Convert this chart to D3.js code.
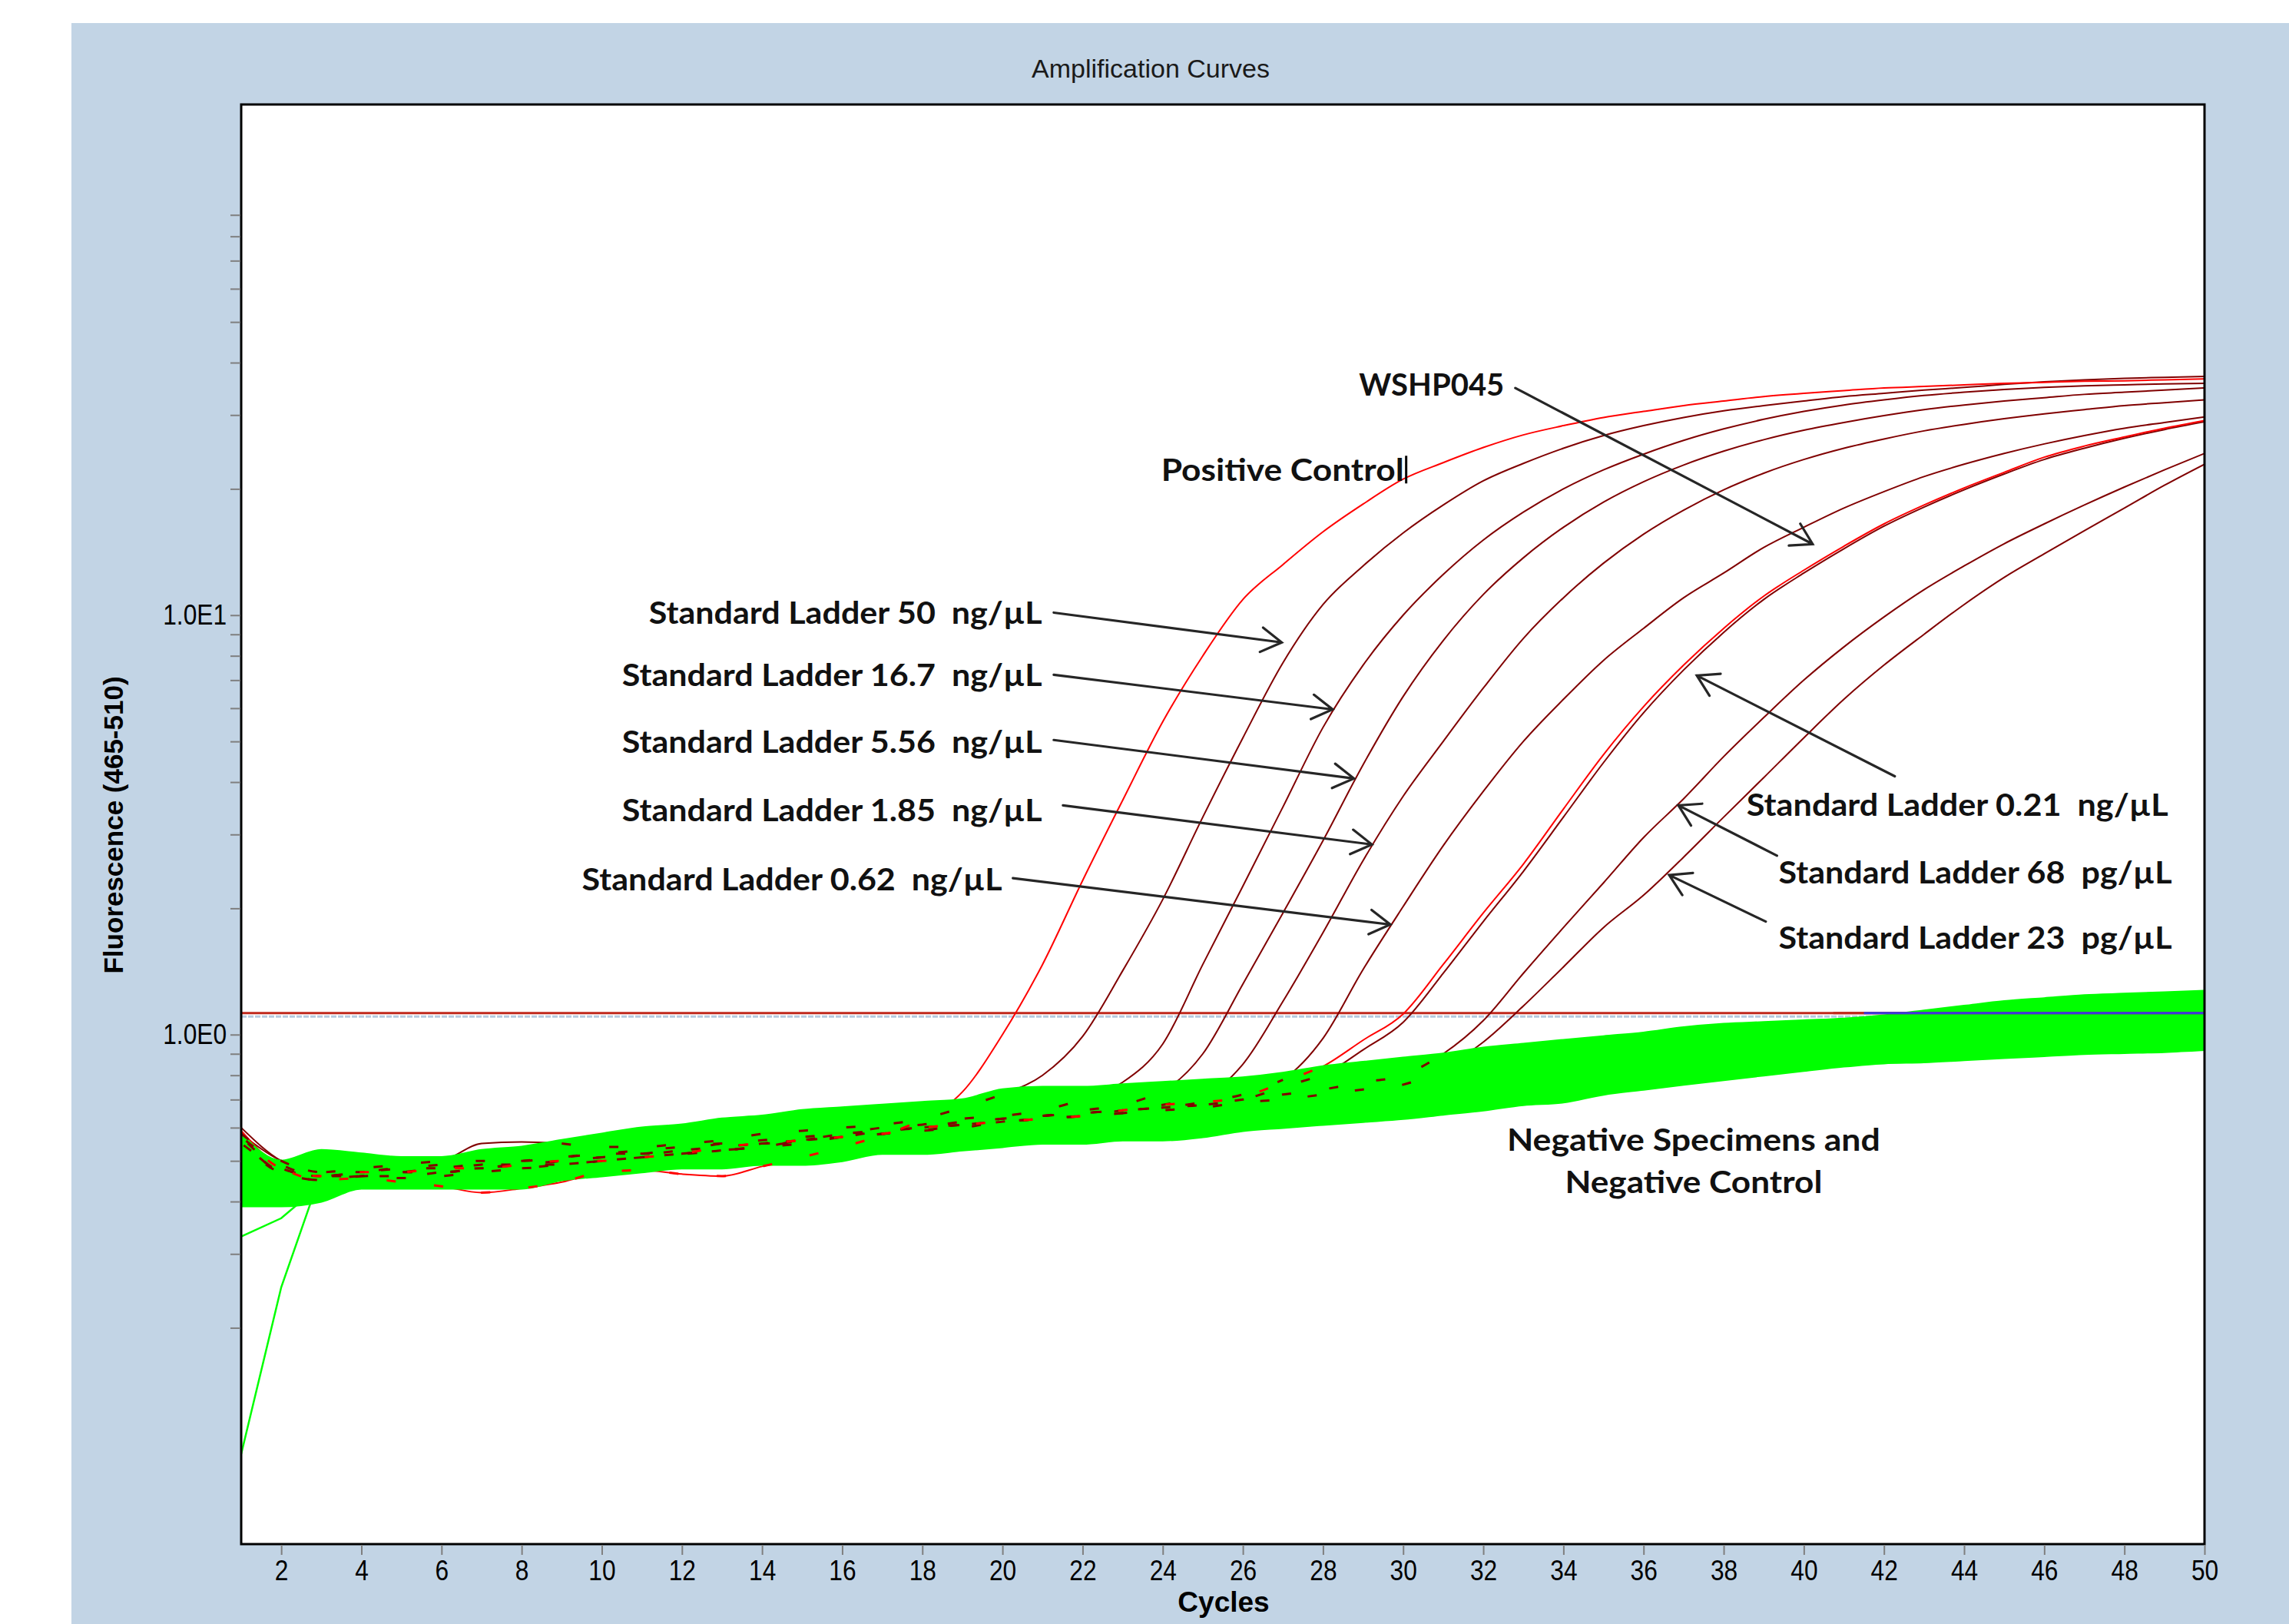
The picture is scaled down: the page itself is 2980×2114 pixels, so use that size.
<!DOCTYPE html>
<html><head><meta charset="utf-8">
<script src="https://cdn.jsdelivr.net/npm/d3@7"></script>
<style>html,body{margin:0;padding:0;background:#fff;} svg{display:block;} text{white-space:pre;}</style>
</head><body>
<svg id="chart" width="2980" height="2114"></svg>
<script>
// ---------------- DATA ----------------
const cycles = d3.range(1, 51);
const xTickValues = d3.range(2, 51, 2);
const yTickValues = [0.2,0.3,0.4,0.5,0.6,0.7,0.8,0.9,1,2,3,4,5,6,7,8,9,10,20,30,40,50,60,70,80,90];
const yTickLabels = {1: "1.0E0", 10: "1.0E1"};
const thresholdValue = 1.125;
const thresholdBlueFrom = 41.5;

const positiveControl = [0.59,0.48,0.45,0.455,0.445,0.435,0.42,0.43,0.445,0.47,
 0.475,0.465,0.46,0.485,0.51,0.54,0.575,0.625,0.73,1.0,
 1.47,2.33,3.62,5.57,8.0,10.9,13.2,15.8,18.4,21.1,
 23.1,25.1,26.9,28.3,29.6,30.6,31.6,32.4,33.2,33.8,
 34.3,34.8,35.1,35.4,35.7,35.9,36.1,36.2,36.4,36.6];
const wshp045 = [0.58,0.48,0.46,0.47,0.47,0.48,0.48,0.49,0.50,0.50,
 0.51,0.52,0.54,0.55,0.56,0.57,0.58,0.60,0.61,0.62,
 0.63,0.64,0.66,0.68,0.69,0.71,0.77,0.84,0.97,1.12,
 1.47,1.95,2.55,3.45,4.65,6.05,7.6,9.3,11.1,12.8,
 14.6,16.5,18.3,20.1,21.9,23.8,25.3,26.6,27.9,29.1];
const std50 = [0.58,0.50,0.47,0.48,0.49,0.50,0.55,0.555,0.55,0.54,
 0.54,0.55,0.56,0.58,0.59,0.60,0.61,0.63,0.67,0.72,
 0.80,0.99,1.42,2.1,3.3,5.1,7.7,10.6,13.1,15.7,
 18.3,20.9,23.0,25.0,26.8,28.3,29.6,30.7,31.6,32.4,
 33.2,33.8,34.4,34.9,35.5,36.0,36.4,36.7,36.9,37.1];
const std16_7 = [0.56,0.47,0.45,0.46,0.455,0.46,0.47,0.48,0.49,0.50,
 0.51,0.52,0.53,0.54,0.56,0.58,0.60,0.61,0.63,0.64,
 0.66,0.70,0.77,0.95,1.47,2.26,3.49,5.4,7.6,10.0,
 12.5,15.1,17.6,20.0,22.2,24.2,26.1,27.8,29.3,30.6,
 31.7,32.6,33.4,34.0,34.5,34.9,35.2,35.4,35.6,35.7];
const std5_56 = [0.55,0.48,0.46,0.47,0.48,0.48,0.49,0.50,0.51,0.52,
 0.52,0.53,0.55,0.56,0.57,0.58,0.59,0.60,0.62,0.63,
 0.64,0.66,0.68,0.73,0.90,1.32,1.95,2.9,4.4,6.4,
 8.7,11.2,13.7,16.2,18.6,20.8,22.8,24.6,26.2,27.6,
 28.8,29.9,30.9,31.7,32.4,33.0,33.6,34.0,34.4,34.8];
const std1_85 = [0.60,0.50,0.47,0.47,0.47,0.47,0.48,0.49,0.50,0.51,
 0.52,0.52,0.53,0.54,0.56,0.57,0.58,0.60,0.61,0.62,
 0.63,0.64,0.66,0.68,0.71,0.85,1.2,1.75,2.6,3.7,
 5.0,6.7,8.8,11.0,13.3,15.6,17.8,19.9,21.8,23.5,
 25.0,26.3,27.5,28.5,29.4,30.2,30.9,31.6,32.1,32.6];
const std0_62 = [0.57,0.49,0.46,0.46,0.46,0.47,0.48,0.48,0.49,0.50,
 0.51,0.52,0.53,0.55,0.56,0.58,0.59,0.60,0.61,0.62,
 0.64,0.65,0.66,0.67,0.69,0.72,0.78,0.98,1.43,2.02,
 2.82,3.8,5.0,6.3,7.8,9.3,11.0,12.6,14.5,16.2,
 18.0,19.7,21.4,22.9,24.3,25.6,26.8,27.9,28.8,29.7];
const std0_21 = [0.56,0.47,0.45,0.46,0.47,0.47,0.48,0.49,0.49,0.50,
 0.51,0.52,0.53,0.54,0.55,0.57,0.58,0.59,0.60,0.62,
 0.63,0.64,0.65,0.67,0.68,0.70,0.75,0.80,0.92,1.07,
 1.40,1.86,2.45,3.3,4.45,5.85,7.4,9.1,10.9,12.6,
 14.4,16.3,18.1,19.9,21.7,23.5,25.0,26.4,27.7,28.9];
const std68pg = [0.57,0.48,0.46,0.47,0.48,0.49,0.50,0.50,0.51,0.52,
 0.53,0.54,0.55,0.55,0.56,0.57,0.59,0.60,0.61,0.63,
 0.64,0.65,0.66,0.67,0.68,0.70,0.72,0.74,0.77,0.80,
 0.90,1.08,1.40,1.80,2.30,2.95,3.65,4.6,5.7,7.0,
 8.4,9.9,11.5,13.1,14.8,16.5,18.3,20.2,22.2,24.3];
const std23pg = [0.56,0.47,0.46,0.46,0.47,0.48,0.49,0.49,0.50,0.51,
 0.52,0.53,0.54,0.55,0.56,0.57,0.58,0.59,0.61,0.62,
 0.63,0.64,0.65,0.66,0.67,0.69,0.70,0.72,0.74,0.76,
 0.83,0.96,1.17,1.45,1.80,2.15,2.65,3.3,4.1,5.1,
 6.3,7.6,9.0,10.6,12.3,14.0,15.9,18.0,20.4,22.9];

// negative specimens: envelope of the green band + two outlying start traces
const negativeUpper = [0.58,0.50,0.53,0.52,0.51,0.51,0.53,0.54,0.56,0.58,
 0.60,0.61,0.63,0.64,0.66,0.67,0.68,0.69,0.70,0.74,
 0.75,0.75,0.76,0.77,0.78,0.79,0.81,0.84,0.86,0.88,
 0.90,0.93,0.95,0.97,0.99,1.01,1.04,1.06,1.07,1.08,
 1.09,1.11,1.14,1.17,1.20,1.22,1.24,1.25,1.26,1.27];
const negativeLower = [0.39,0.39,0.40,0.43,0.43,0.43,0.43,0.43,0.45,0.46,
 0.47,0.48,0.48,0.49,0.49,0.50,0.52,0.52,0.53,0.54,
 0.55,0.55,0.56,0.56,0.57,0.59,0.60,0.61,0.62,0.63,
 0.645,0.66,0.68,0.69,0.72,0.74,0.76,0.78,0.80,0.82,
 0.84,0.855,0.86,0.87,0.88,0.89,0.90,0.905,0.91,0.92];
const negativeOutlierA = [0.33,0.365,0.44];
const negativeOutlierB = [0.10,0.25,0.47];

const standardSeries = [std50, std16_7, std5_56, std1_85, std0_62, std0_21, std68pg, std23pg];
const redSeries = [positiveControl, wshp045];

// annotations: label, text anchor point (cycle, fluorescence), arrow tail -> head
const annotations = [
 {t:"WSHP045", at:[28.90,33.35], a:"start", w:189, arrow:[[32.80,34.8],[40.22,14.77]]},
 {t:"Positive Control", at:[23.96,20.87], a:"start", w:316, bar:true},
 {t:"Standard Ladder 50  ng/µL", at:[20.99,9.52], a:"end", w:512, arrow:[[21.28,10.14],[26.97,8.61]]},
 {t:"Standard Ladder 16.7  ng/µL", at:[20.99,6.79], a:"end", w:547, arrow:[[21.28,7.21],[28.24,5.96]]},
 {t:"Standard Ladder 5.56  ng/µL", at:[20.99,4.69], a:"end", w:547, arrow:[[21.28,5.04],[28.77,4.08]]},
 {t:"Standard Ladder 1.85  ng/µL", at:[20.99,3.23], a:"end", w:547, arrow:[[21.51,3.52],[29.22,2.84]]},
 {t:"Standard Ladder 0.62  ng/µL", at:[19.99,2.21], a:"end", w:547, arrow:[[20.26,2.36],[29.68,1.83]]},
 {t:"Standard Ladder 0.21  ng/µL", at:[38.57,3.33], a:"start", w:549, arrow:[[42.27,4.13],[37.33,7.18]]},
 {t:"Standard Ladder 68  pg/µL", at:[39.37,2.29], a:"start", w:512, arrow:[[39.33,2.67],[36.87,3.52]]},
 {t:"Standard Ladder 23  pg/µL", at:[39.37,1.60], a:"start", w:512, arrow:[[39.05,1.86],[36.64,2.40]]},
 {t:"Negative Specimens and", at:[37.25,0.529], a:"middle", w:486},
 {t:"Negative Control", at:[37.25,0.419], a:"middle", w:335}
];

// ---------------- LAYOUT ----------------
const svg = d3.select("#chart");
const L = 314, R = 2870, T = 136, B = 2010;
const x = d3.scaleLinear().domain([1, 50]).range([L, R]);
const y = d3.scaleLog().domain([0.061, 165]).range([B, T]);

svg.append("rect").attr("x",0).attr("y",0).attr("width",2980).attr("height",2114).attr("fill","#fff");
svg.append("rect").attr("x",93).attr("y",30).attr("width",2887).attr("height",2084).attr("fill","#c2d4e5");
svg.append("rect").attr("x",L).attr("y",T).attr("width",R-L).attr("height",B-T).attr("fill","#fff");

svg.append("text").attr("x",1498).attr("y",101).attr("text-anchor","middle")
  .attr("font-family","Liberation Sans, Arial, sans-serif").attr("font-size",34).attr("fill","#1a1a1a")
  .text("Amplification Curves");

const clipId = "plotclip";
svg.append("defs").append("clipPath").attr("id",clipId).append("rect")
  .attr("x",L).attr("y",T).attr("width",R-L).attr("height",B-T);
const plot = svg.append("g").attr("clip-path",`url(#${clipId})`);

const line = d3.line().x((d,i)=>x(cycles[i])).y(d=>y(d)).curve(d3.curveMonotoneX);

// threshold
const ty = y(thresholdValue);
plot.append("line").attr("x1",x(1)).attr("x2",x(50)).attr("y1",ty+4.5).attr("y2",ty+4.5)
  .attr("stroke","#b6cadf").attr("stroke-width",3).attr("stroke-dasharray","7,2");
plot.append("line").attr("x1",x(1)).attr("x2",x(50)).attr("y1",ty).attr("y2",ty)
  .attr("stroke","#c0281c").attr("stroke-width",3);

// amplification curves (full)
standardSeries.forEach(s=>{
  plot.append("path").datum(s).attr("d", line).attr("fill","none").attr("stroke","#800000").attr("stroke-width",2);
});
redSeries.forEach(s=>{
  plot.append("path").datum(s).attr("d", line).attr("fill","none").attr("stroke","#ff0000").attr("stroke-width",2);
});

// green band (negative specimens) drawn over the baselines
const band = cycles.map((c,i)=>({c, lo:negativeLower[i], hi:negativeUpper[i]}));
plot.append("path").datum(band)
  .attr("d", d3.area().x(d=>x(d.c)).y0(d=>y(d.lo)).y1(d=>y(d.hi)).curve(d3.curveMonotoneX))
  .attr("fill","#00ff00").attr("stroke","#00ff00").attr("stroke-width",3);
[negativeOutlierA, negativeOutlierB].forEach(s=>{
  plot.append("path").datum(s).attr("d", d3.line().x((d,i)=>x(cycles[i])).y(d=>y(d)))
    .attr("fill","none").attr("stroke","#00ff00").attr("stroke-width",2.5);
});

// curve fragments visible through the band (baseline part only)
const baseLine = d3.line().defined((d,i)=>d <= negativeUpper[i]).x((d,i)=>x(cycles[i])).y(d=>y(d)).curve(d3.curveMonotoneX);
standardSeries.concat(redSeries).forEach((s,k)=>{
  plot.append("path").datum(s).attr("d", baseLine).attr("fill","none")
    .attr("stroke", k < standardSeries.length ? "#800000" : "#ff0000")
    .attr("stroke-width",3).attr("stroke-dasharray","12,50").attr("stroke-dashoffset", k*29);
});

// threshold on top of the band where it rises above
plot.append("line").attr("x1",x(thresholdBlueFrom)-40).attr("x2",x(50)).attr("y1",ty).attr("y2",ty)
  .attr("stroke","#c0281c").attr("stroke-width",3);
plot.append("line").attr("x1",x(thresholdBlueFrom)).attr("x2",x(50)).attr("y1",ty).attr("y2",ty)
  .attr("stroke","#3a3ae0").attr("stroke-width",3);

// frame
svg.append("rect").attr("x",L).attr("y",T).attr("width",R-L).attr("height",B-T)
  .attr("fill","none").attr("stroke","#000").attr("stroke-width",3);

// axes
const tickFont = "Liberation Sans, Arial, sans-serif";
const xAxis = svg.append("g").attr("transform",`translate(0,${B+1})`)
  .call(d3.axisBottom(x).tickValues(xTickValues).tickSize(13).tickPadding(7).tickFormat(d3.format("d")));
const yAxis = svg.append("g").attr("transform",`translate(${L-1},0)`)
  .call(d3.axisLeft(y).tickValues(yTickValues).tickSize(13).tickPadding(5).tickFormat(d=>yTickLabels[d]||""));
[xAxis, yAxis].forEach(g=>{
  g.select(".domain").remove();
  g.selectAll(".tick line").attr("stroke","#7f7f7f").attr("stroke-width",2);
  g.selectAll(".tick text").attr("font-family",tickFont).attr("font-size",36).attr("fill","#000");
});
[xAxis, yAxis].forEach(g=>{
  g.selectAll(".tick text").each(function(){
    const len = this.getComputedTextLength();
    if (len>0) d3.select(this).attr("textLength", len*0.88).attr("lengthAdjust","spacingAndGlyphs");
  });
});

svg.append("text").attr("x",1593).attr("y",2098).attr("text-anchor","middle")
  .attr("font-family",tickFont).attr("font-weight","bold").attr("font-size",37).text("Cycles");
svg.append("text").attr("transform","translate(160,1074) rotate(-90)").attr("text-anchor","middle")
  .attr("font-family",tickFont).attr("font-weight","bold").attr("font-size",35).text("Fluorescence (465-510)");

// annotations
const ann = svg.append("g");
annotations.forEach(a=>{
  const px = x(a.at[0]), py = y(a.at[1]);
  ann.append("text").attr("x",px).attr("y",py).attr("text-anchor",a.a)
    .attr("font-family","Lato, 'Open Sans', sans-serif").attr("font-weight",700).attr("font-size",40)
    .attr("fill","#111").attr("textLength",a.w).attr("lengthAdjust","spacingAndGlyphs").text(a.t);
  if (a.bar) {
    const bx = px + a.w + 3;
    ann.append("line").attr("x1",bx).attr("x2",bx).attr("y1",py-33).attr("y2",py+3).attr("stroke","#000").attr("stroke-width",3);
  }
  if (a.arrow) {
    const x1 = x(a.arrow[0][0]), y1 = y(a.arrow[0][1]), x2 = x(a.arrow[1][0]), y2 = y(a.arrow[1][1]);
    const ang = Math.atan2(y2-y1, x2-x1), hl = 31, ha = 31*Math.PI/180;
    const b1 = [x2 - hl*Math.cos(ang-ha), y2 - hl*Math.sin(ang-ha)];
    const b2 = [x2 - hl*Math.cos(ang+ha), y2 - hl*Math.sin(ang+ha)];
    ann.append("path").attr("d",`M${x1},${y1}L${x2},${y2}M${b1[0]},${b1[1]}L${x2},${y2}L${b2[0]},${b2[1]}`)
      .attr("fill","none").attr("stroke","#262626").attr("stroke-width",3.2).attr("stroke-linecap","round");
  }
});
</script>
</body></html>
